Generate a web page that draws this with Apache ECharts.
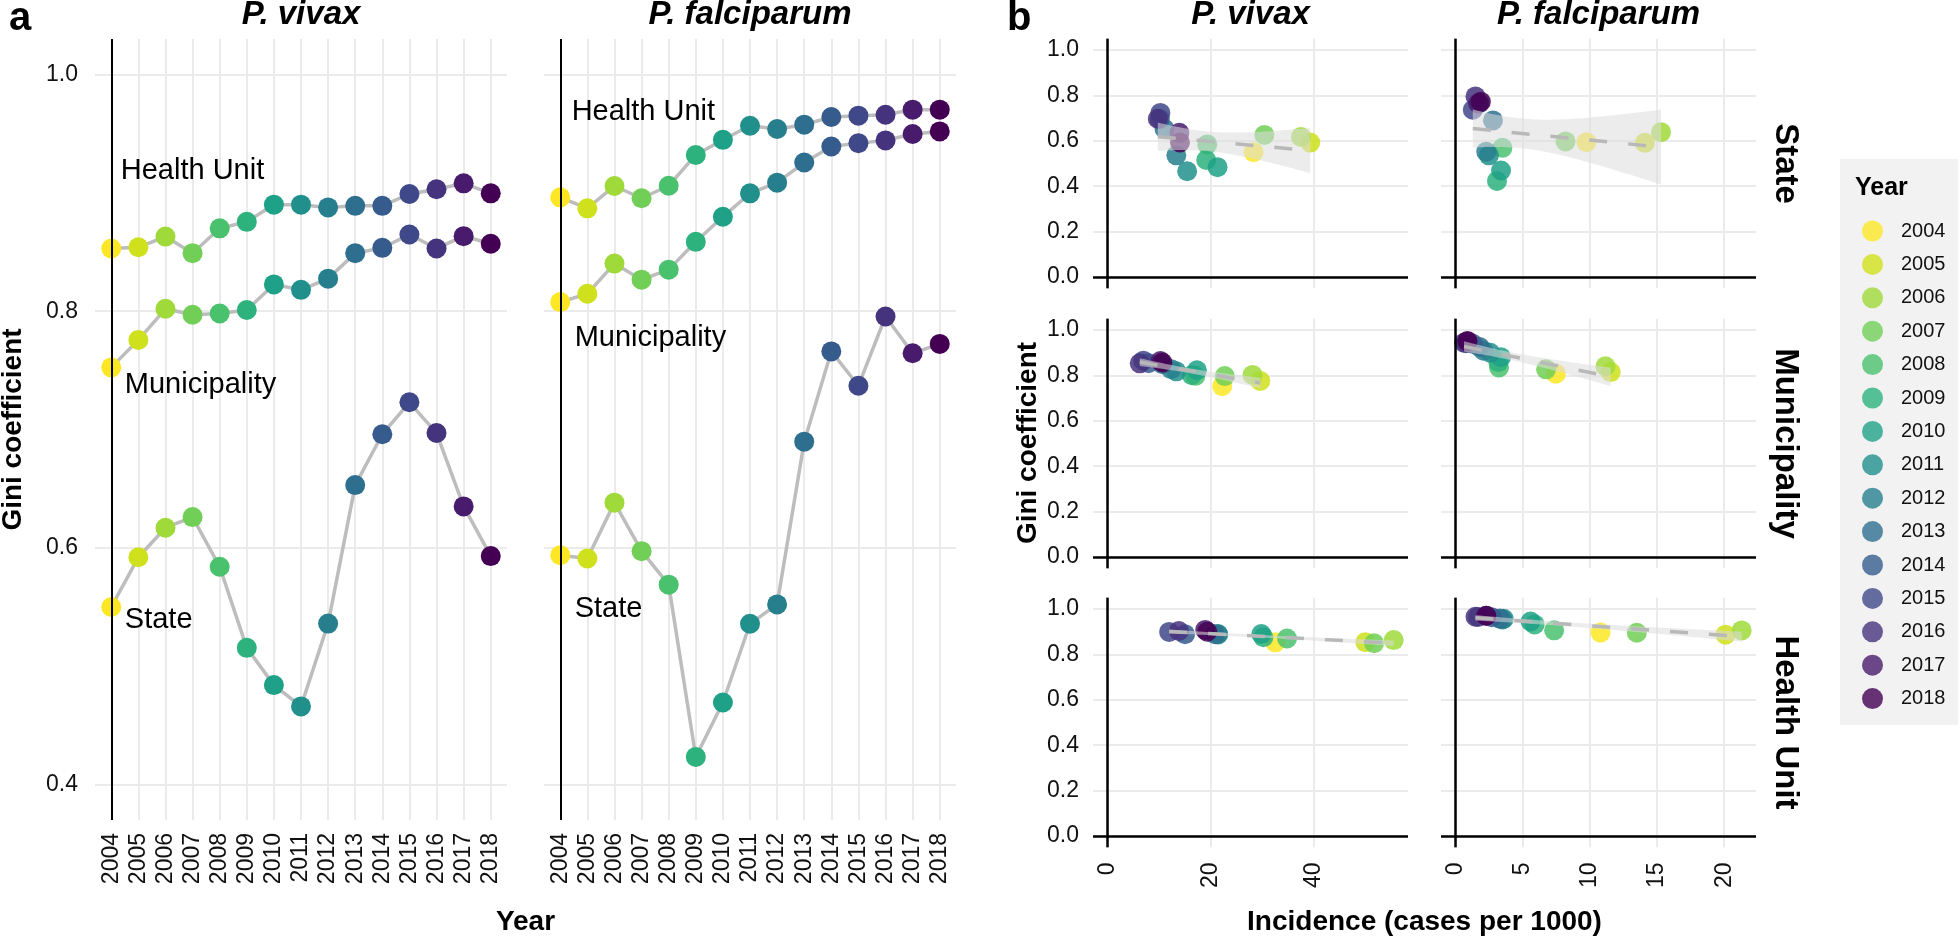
<!DOCTYPE html>
<html>
<head>
<meta charset="utf-8">
<script src="https://cdn.jsdelivr.net/npm/echarts@6.0.0/dist/echarts.min.js"></script>
<style>
html,body{margin:0;padding:0;background:#ffffff;}
#chart{width:1960px;height:938px;}
</style>
</head>
<body>
<div id="chart"></div>
<script>
// ================= DATA =================
const years = [2004,2005,2006,2007,2008,2009,2010,2011,2012,2013,2014,2015,2016,2017,2018];

// Gini coefficient by year (panel a, also y of panel b)
const giniVivaxState          = [0.550,0.592,0.617,0.626,0.584,0.5155,0.484,0.466,0.536,0.653,0.696,0.723,0.697,0.635,0.593];
const giniVivaxMunicipality   = [0.7525,0.7757,0.802,0.797,0.798,0.801,0.8226,0.818,0.8275,0.849,0.8535,0.8648,0.853,0.8634,0.857];
const giniVivaxHealthUnit     = [0.853,0.854,0.863,0.849,0.870,0.8755,0.890,0.890,0.8877,0.889,0.889,0.899,0.903,0.908,0.8996];
const giniFalciparumState        = [0.5938,0.591,0.6382,0.5972,0.5689,0.4233,0.4693,0.5358,0.5522,0.6897,0.766,0.737,0.7955,0.7644,0.7723];
const giniFalciparumMunicipality = [0.8077,0.8147,0.8402,0.8266,0.8351,0.8586,0.8798,0.8996,0.9086,0.9256,0.9392,0.942,0.9443,0.9497,0.9519];
const giniFalciparumHealthUnit   = [0.8962,0.8869,0.9058,0.8954,0.906,0.932,0.9448,0.9567,0.9539,0.9576,0.9641,0.9652,0.966,0.9703,0.9703];

// Incidence (cases per 1000) by year (x of panel b)
const incidenceVivaxState        = [28.4,39.4,37.6,30.5,19.4,19.2,21.4,15.5,13.4,11.1,10.2,10.3,9.8,14.0,14.1];
const incidenceVivaxMunicipality = [22.3,29.7,28.2,22.8,17.1,16.4,17.4,13.4,12.4,10.7,8.0,7.0,6.3,10.3,10.7];
const incidenceVivaxHealthUnit   = [32.6,50.1,55.6,51.8,34.9,30.3,29.9,21.5,21.5,20.9,15.1,12.0,13.9,19.0,19.4];
const incidenceFalciparumState        = [9.76,14.1,15.3,8.2,3.5,3.1,3.4,2.5,2.3,2.8,1.8,1.3,1.5,1.7,1.9];
const incidenceFalciparumMunicipality = [7.48,11.56,11.17,6.75,3.25,3.2,3.4,2.6,2.1,1.8,1.3,0.8,0.65,0.9,0.9];
const incidenceFalciparumHealthUnit   = [10.8,20.1,21.3,13.5,7.35,5.9,5.6,3.6,3.5,3.3,2.7,1.7,1.5,2.3,2.3];

const levelNames   = ['State','Municipality','Health Unit'];
const speciesNames = ['P. vivax','P. falciparum'];

// tick labels
const giniTicksA = [0.4,0.6,0.8,1.0];
const giniTicksB = [0.0,0.2,0.4,0.6,0.8,1.0];
const incidenceTicksVivax      = [0,20,40];
const incidenceTicksFalciparum = [0,5,10,15,20];

// in-panel text labels (panel a)
const annotationsVivax      = [{text:'Health Unit', year:2004.35, gini:0.9185},{text:'Municipality', year:2004.5, gini:0.738},{text:'State', year:2004.5, gini:0.5387}];
const annotationsFalciparum = [{text:'Health Unit', year:2004.42, gini:0.9686},{text:'Municipality', year:2004.53, gini:0.7773},{text:'State', year:2004.53, gini:0.548}];

// viridis palette (2004 -> 2018)
const yearPalette = ['#FDE725','#CFE11C','#9FDA3A','#71CF57','#4AC16D','#2DB27D','#1FA187','#21908C','#277F8E','#2E6E8E','#365C8D','#3F4889','#46337E','#481B6D','#440154'];

// ================= STYLE / LAYOUT =================
const FONT = '"Liberation Sans", Arial, Helvetica, sans-serif';
const TXT = '#111111';
const GRIDC = '#ebebeb';

const giniA = [
  [giniVivaxState, giniVivaxMunicipality, giniVivaxHealthUnit],
  [giniFalciparumState, giniFalciparumMunicipality, giniFalciparumHealthUnit]
];
const incB = [
  [incidenceVivaxState, incidenceVivaxMunicipality, incidenceVivaxHealthUnit],
  [incidenceFalciparumState, incidenceFalciparumMunicipality, incidenceFalciparumHealthUnit]
];
const annA = [annotationsVivax, annotationsFalciparum];
const xTicksB = [incidenceTicksVivax, incidenceTicksFalciparum];

const grids = [], xAxes = [], yAxes = [], series = [];

// ---- panel a ----
const aLeft = [95, 544], aTop = 39, aW = 412, aH = 781;
const aYMin = 0.4 - 0.05 * 0.6, aYMax = 1.0 + 0.05 * 0.6;
for (let s = 0; s < 2; s++) {
  grids.push({left: aLeft[s], top: aTop, width: aW, height: aH});
  xAxes.push({
    type: 'value', gridIndex: s, min: years[0] - 0.6, max: years[years.length - 1] + 0.6,
    axisLine: {show: false},
    axisTick: {show: false, customValues: years},
    axisLabel: {customValues: years, rotate: 90, margin: 13, fontSize: 23, color: TXT, fontFamily: FONT, formatter: v => String(v)},
    splitLine: {show: true, lineStyle: {color: GRIDC, width: 2}}
  });
  yAxes.push({
    type: 'value', gridIndex: s, min: aYMin, max: aYMax,
    axisLine: {show: false},
    axisTick: {show: false, customValues: giniTicksA},
    axisLabel: {show: s === 0, customValues: giniTicksA, margin: 17, fontSize: 23, color: TXT, fontFamily: FONT, formatter: v => v.toFixed(1)},
    splitLine: {show: true, lineStyle: {color: GRIDC, width: 2}}
  });
}

// ---- panel b ----
const bLeft = [1093, 1441], bTop = [38.65, 318.65, 597.65], bW = 315, bH = 249.7;
const colMax = [0, 1].map(c => Math.max(...incB[c][0], ...incB[c][1], ...incB[c][2]));
for (let r = 0; r < 3; r++) {
  for (let c = 0; c < 2; c++) {
    const gi = 2 + r * 2 + c;
    grids.push({left: bLeft[c], top: bTop[r], width: bW, height: bH});
    xAxes.push({
      type: 'value', gridIndex: gi, min: -0.05 * colMax[c], max: 1.05 * colMax[c],
      axisLine: {show: false},
      axisTick: {show: false, customValues: xTicksB[c]},
      axisLabel: {show: r === 2, customValues: xTicksB[c], rotate: 90, margin: 15, fontSize: 23, color: TXT, fontFamily: FONT, formatter: v => String(v)},
      splitLine: {show: true, lineStyle: {color: GRIDC, width: 2}}
    });
    yAxes.push({
      type: 'value', gridIndex: gi, min: -0.05, max: 1.05,
      axisLine: {show: false},
      axisTick: {show: false, customValues: giniTicksB},
      axisLabel: {show: c === 0, customValues: giniTicksB, margin: 14, fontSize: 23, color: TXT, fontFamily: FONT, formatter: v => v.toFixed(1)},
      splitLine: {show: true, lineStyle: {color: GRIDC, width: 2}}
    });
  }
}

// ---- panel a series ----
for (let s = 0; s < 2; s++) {
  for (let l = 0; l < 3; l++) {
    const pts = years.map((y, i) => [y, giniA[s][l][i]]);
    const ser = {
      type: 'line', xAxisIndex: s, yAxisIndex: s, data: pts, showSymbol: false, symbol: 'none',
      lineStyle: {color: '#bdbdbd', width: 3.5}, z: 2, silent: true, animation: false
    };
    if (l === 0) {
      ser.markLine = {silent: true, symbol: ['none', 'none'], label: {show: false},
        lineStyle: {color: '#000', width: 2, type: 'solid'}, data: [{xAxis: years[0]}], animation: false};
    }
    series.push(ser);
    series.push({
      type: 'scatter', xAxisIndex: s, yAxisIndex: s, data: pts, symbolSize: 20,
      itemStyle: {color: p => yearPalette[p.dataIndex], opacity: 1}, z: 3, silent: true, animation: false
    });
  }
  // text labels placed in data space
  series.push({
    type: 'custom', xAxisIndex: s, yAxisIndex: s, silent: true, animation: false, z: 6,
    data: annA[s].map(a => [a.year, a.gini, a.text]),
    renderItem: (params, api) => {
      const p = api.coord([api.value(0), api.value(1)]);
      return {type: 'text', x: p[0], y: p[1], style: {text: annA[s][params.dataIndex].text, fontSize: 29,
        fontFamily: FONT, fill: '#000', align: 'left', verticalAlign: 'middle'}};
    }
  });
}

// ---- panel b series ----
const T975 = 2.160; // t quantile, 13 df
function lmFit(xs, ys) {
  const n = xs.length;
  const xbar = xs.reduce((a, b) => a + b, 0) / n, ybar = ys.reduce((a, b) => a + b, 0) / n;
  let sxx = 0, sxy = 0;
  for (let i = 0; i < n; i++) { sxx += (xs[i] - xbar) ** 2; sxy += (xs[i] - xbar) * (ys[i] - ybar); }
  const b = sxy / sxx, a = ybar - b * xbar;
  let sse = 0;
  for (let i = 0; i < n; i++) sse += (ys[i] - a - b * xs[i]) ** 2;
  return {a, b, n, xbar, sxx, s: Math.sqrt(sse / (n - 2))};
}
for (let r = 0; r < 3; r++) {
  for (let c = 0; c < 2; c++) {
    const gi = 2 + r * 2 + c;
    const xs = incB[c][r], ys = giniA[c][r];
    const pts = xs.map((x, i) => [x, ys[i]]);
    series.push({
      type: 'scatter', xAxisIndex: gi, yAxisIndex: gi, data: pts, symbolSize: 20,
      itemStyle: {color: p => yearPalette[p.dataIndex], opacity: 0.85}, z: 3, silent: true, animation: false,
      markLine: {silent: true, symbol: ['none', 'none'], label: {show: false},
        lineStyle: {color: '#000', width: 2.5, type: 'solid'}, data: [{xAxis: 0}, {yAxis: 0}], animation: false}
    });
    const f = lmFit(xs, ys);
    const xmin = Math.min(...xs), xmax = Math.max(...xs);
    const upper = [], lower = [];
    const N = 60;
    for (let k = 0; k <= N; k++) {
      const x = xmin + (xmax - xmin) * k / N;
      const yh = f.a + f.b * x;
      const se = f.s * Math.sqrt(1 / f.n + (x - f.xbar) ** 2 / f.sxx);
      upper.push([x, yh + T975 * se]);
      lower.push([x, yh - T975 * se]);
    }
    const poly = upper.concat(lower.slice().reverse());
    series.push({
      type: 'custom', xAxisIndex: gi, yAxisIndex: gi, data: [[xmin, f.a + f.b * xmin]], silent: true, animation: false, z: 4,
      renderItem: (params, api) => ({
        type: 'polygon', shape: {points: poly.map(p => api.coord(p))},
        style: {fill: 'rgba(220,220,220,0.55)'}
      })
    });
    series.push({
      type: 'line', xAxisIndex: gi, yAxisIndex: gi, showSymbol: false, symbol: 'none', silent: true, animation: false, z: 5,
      data: [[xmin, f.a + f.b * xmin], [xmax, f.a + f.b * xmax]],
      lineStyle: {color: '#b8b8b8', width: 3.5, type: [18, 21]}
    });
  }
}

// ---- legend carrier series ----
years.forEach((y, i) => {
  series.push({type: 'scatter', name: String(y), xAxisIndex: 0, yAxisIndex: 0, data: [], itemStyle: {color: yearPalette[i]}});
});

// ---- text ----
function txt(t, x, y, size, opts) {
  opts = opts || {};
  return {
    type: 'text', x: x, y: y, rotation: opts.rot || 0, silent: true, z: 10,
    style: {text: t, fontSize: size, fontWeight: opts.weight || 'normal', fontStyle: opts.italic ? 'italic' : 'normal',
      fontFamily: FONT, fill: '#000', align: opts.align || 'center', verticalAlign: 'middle'}
  };
}
const graphics = [
  {type: 'rect', x: 1840, y: 159, shape: {width: 118, height: 566}, style: {fill: '#f2f2f2'}, silent: true, z: 0},
  txt('a', 9, 19, 40, {weight: 'bold', align: 'left'}),
  txt('b', 1007, 19, 40, {weight: 'bold', align: 'left'}),
  txt(speciesNames[0], aLeft[0] + aW / 2, 15, 33, {weight: 'bold', italic: true}),
  txt(speciesNames[1], aLeft[1] + aW / 2, 15, 33, {weight: 'bold', italic: true}),
  txt(speciesNames[0], bLeft[0] + bW / 2, 15, 33, {weight: 'bold', italic: true}),
  txt(speciesNames[1], bLeft[1] + bW / 2, 15, 33, {weight: 'bold', italic: true}),
  txt('Gini coefficient', 13, aTop + aH / 2, 28, {weight: 'bold', rot: Math.PI / 2}),
  txt('Year', (aLeft[0] + aLeft[1] + aW) / 2, 922, 28, {weight: 'bold'}),
  txt('Gini coefficient', 1028, (bTop[0] + bTop[2] + bH) / 2, 28, {weight: 'bold', rot: Math.PI / 2}),
  txt('Incidence (cases per 1000)', (bLeft[0] + bLeft[1] + bW) / 2, 922, 28, {weight: 'bold'}),
  txt('Year', 1855, 188, 25, {weight: 'bold', align: 'left'})
];
levelNames.forEach((n, r) => graphics.push(txt(n, 1785, bTop[r] + bH / 2, 33, {weight: 'bold', rot: -Math.PI / 2})));

const option = {
  backgroundColor: '#ffffff',
  animation: false,
  grid: grids,
  xAxis: xAxes,
  yAxis: yAxes,
  series: series,
  legend: {
    orient: 'vertical', left: 1857, top: 215.5, itemWidth: 21, itemHeight: 21, itemGap: 12.4,
    icon: 'circle', selectedMode: false, z: 5,
    data: years.map(String),
    textStyle: {fontSize: 20, fontFamily: FONT, color: TXT, lineHeight: 21, padding: [0, 0, 0, 13]}
  },
  graphic: graphics
};
const chart = echarts.init(document.getElementById('chart'), null, {renderer: 'canvas'});
chart.setOption(option);
</script>
</body>
</html>
